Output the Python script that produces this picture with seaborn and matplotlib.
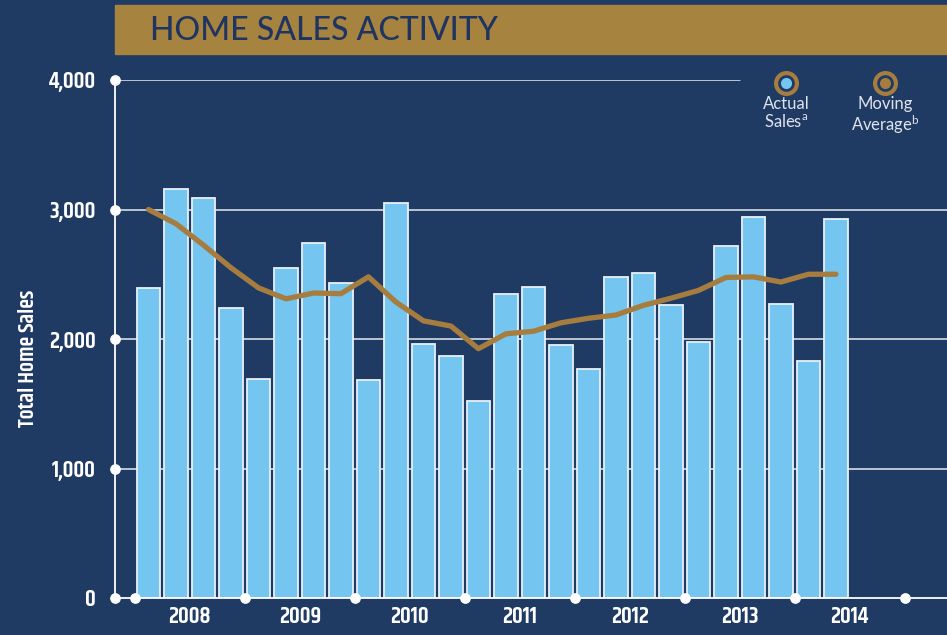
import matplotlib
matplotlib.use("Agg")
import matplotlib.pyplot as plt
from matplotlib import font_manager as fm
import pandas as pd
import seaborn as sns

# quarterly home sales, 2008 Q1 - 2014 Q2
years = ["2008", "2009", "2010", "2011", "2012", "2013", "2014"]
actual_sales = [2390, 3160, 3090, 2240,
                1690, 2550, 2740, 2430,
                1680, 3050, 1960, 1870,
                1520, 2350, 2400, 1950,
                1770, 2480, 2510, 2260,
                1980, 2720, 2940, 2270,
                1830, 2930]
moving_avg = [3000, 2890, 2725, 2550,
              2395, 2310, 2355, 2350,
              2480, 2285, 2140, 2100,
              1925, 2040, 2060, 2125,
              2160, 2185, 2260, 2315,
              2375, 2475, 2480, 2440,
              2500, 2500]
y_ticks = [0, 1000, 2000, 3000, 4000]

quarters = [f"{y} Q{q}" for y in years for q in range(1, 5)][:len(actual_sales)]
df = pd.DataFrame({"quarter": quarters, "idx": range(len(actual_sales)),
                   "sales": actual_sales, "avg": moving_avg})


def wnum(w):
    return fm.weight_dict.get(w, 400) if isinstance(w, str) else int(w)


faces = {}
for f in fm.fontManager.ttflist:
    faces.setdefault(f.name, set()).add(wnum(f.weight))


def pick(names, lo, hi):
    # first family that has a face within the wanted weight range
    for n in names:
        ws = [w for w in faces.get(n, ()) if lo <= w <= hi]
        if ws:
            return [n, "DejaVu Sans"], min(ws, key=lambda w: abs(w - (lo + hi) / 2))
    return ["DejaVu Sans"], 700 if lo >= 600 else 400


cond, cond_w = pick(["Teko", "Khand", "Barlow Condensed", "Saira Condensed",
                     "Roboto Condensed", "Oswald", "Liberation Sans Narrow"], 600, 700)
title_font, title_w = pick(["Montserrat", "Lato"], 500, 500)
legend_font, legend_w = pick(["Montserrat", "Lato"], 400, 400)

bg = "#1f3a63"
bar_c = "#74c5ef"
gold = "#a67d3f"

sns.set_style("white")
plt.rcParams["font.family"] = legend_font
plt.rcParams["mathtext.default"] = "regular"

fig = plt.figure(figsize=(9.47, 6.35), dpi=100, facecolor=bg)
ax = fig.add_axes([115 / 947, 37 / 635, 832 / 947, 518 / 635])
ax.set_facecolor(bg)

# gridlines
for v in y_ticks[1:-1]:
    ax.axhline(v, color="#e6eaf0", lw=1.1, zorder=0)
ax.axhline(4000, xmax=(740 - 115) / 832, color="#e6eaf0", lw=1.1, zorder=0)

sns.barplot(data=df, x="quarter", y="sales", color=bar_c, width=0.86,
            edgecolor="#e8f1f8", linewidth=1.3, saturation=1, ax=ax, zorder=2)
sns.lineplot(data=df, x="idx", y="avg", color=gold, lw=3.8, ax=ax, zorder=3,
             solid_capstyle="round", solid_joinstyle="round")

ax.set_xlim(-1.218, 29.04)
ax.set_ylim(0, 4000)
for s in ax.spines.values():
    s.set_visible(False)
ax.axvline(-1.218, color="white", lw=1.3, zorder=4, clip_on=False)
ax.axhline(0, color="white", lw=1.3, zorder=4, clip_on=False)

# dots on axes
ax.scatter([-1.218] * len(y_ticks), y_ticks, s=45, color="white", zorder=5, clip_on=False)
bounds = [-0.5 + 4 * k for k in range(len(years) + 1)]
ax.scatter(bounds, [0] * len(bounds), s=45, color="white", zorder=5, clip_on=False)

cond_size = 17 if cond[0] in ("Teko", "Khand") else 14
ax.set_yticks(y_ticks)
ax.set_yticklabels([f"{v:,}" for v in y_ticks], family=cond, weight=cond_w,
                   fontsize=cond_size, color="white")
ax.tick_params(axis="y", length=0, pad=14)
ax.set_xticks([1.5 + 4 * k for k in range(len(years))])
ax.set_xticklabels(years, family=cond, weight=cond_w, fontsize=cond_size, color="white")
ax.tick_params(axis="x", length=0, pad=6)
ax.set_xlabel("")
ax.set_ylabel("")
fig.text(28 / 947, 1 - 358 / 635, "Total Home Sales", rotation=90, ha="center",
         va="center", family=cond, weight=cond_w, fontsize=cond_size - 1, color="white")

# title banner
fig.patches.append(plt.Rectangle((115 / 947, 1 - 54 / 635), 832 / 947, 49 / 635,
                                 transform=fig.transFigure, color="#a6843f", zorder=0))
fig.text(150 / 947, 1 - 31 / 635, "HOME SALES ACTIVITY", ha="left", va="center",
         fontsize=23, color="#1f3461", family=title_font, weight=title_w)

# legend
for xp, inner, lab in [(786, bar_c, "Actual\nSales$^{a}$"),
                       (885, gold, "Moving\nAverage$^{b}$")]:
    fx, fy = xp / 947, 1 - 83 / 635
    fig.add_artist(plt.Line2D([fx], [fy], marker="o", markersize=15,
                              markerfacecolor=bg, markeredgecolor=gold,
                              markeredgewidth=3, transform=fig.transFigure))
    fig.add_artist(plt.Line2D([fx], [fy], marker="o", markersize=8,
                              markerfacecolor=inner, markeredgecolor="none",
                              transform=fig.transFigure))
    fig.text(fx, 1 - 96 / 635, lab, ha="center", va="top", fontsize=12,
             color="#dfe3ea", linespacing=1.1, family=legend_font, weight=legend_w)

fig.savefig("out.png", dpi=100, facecolor=bg)
